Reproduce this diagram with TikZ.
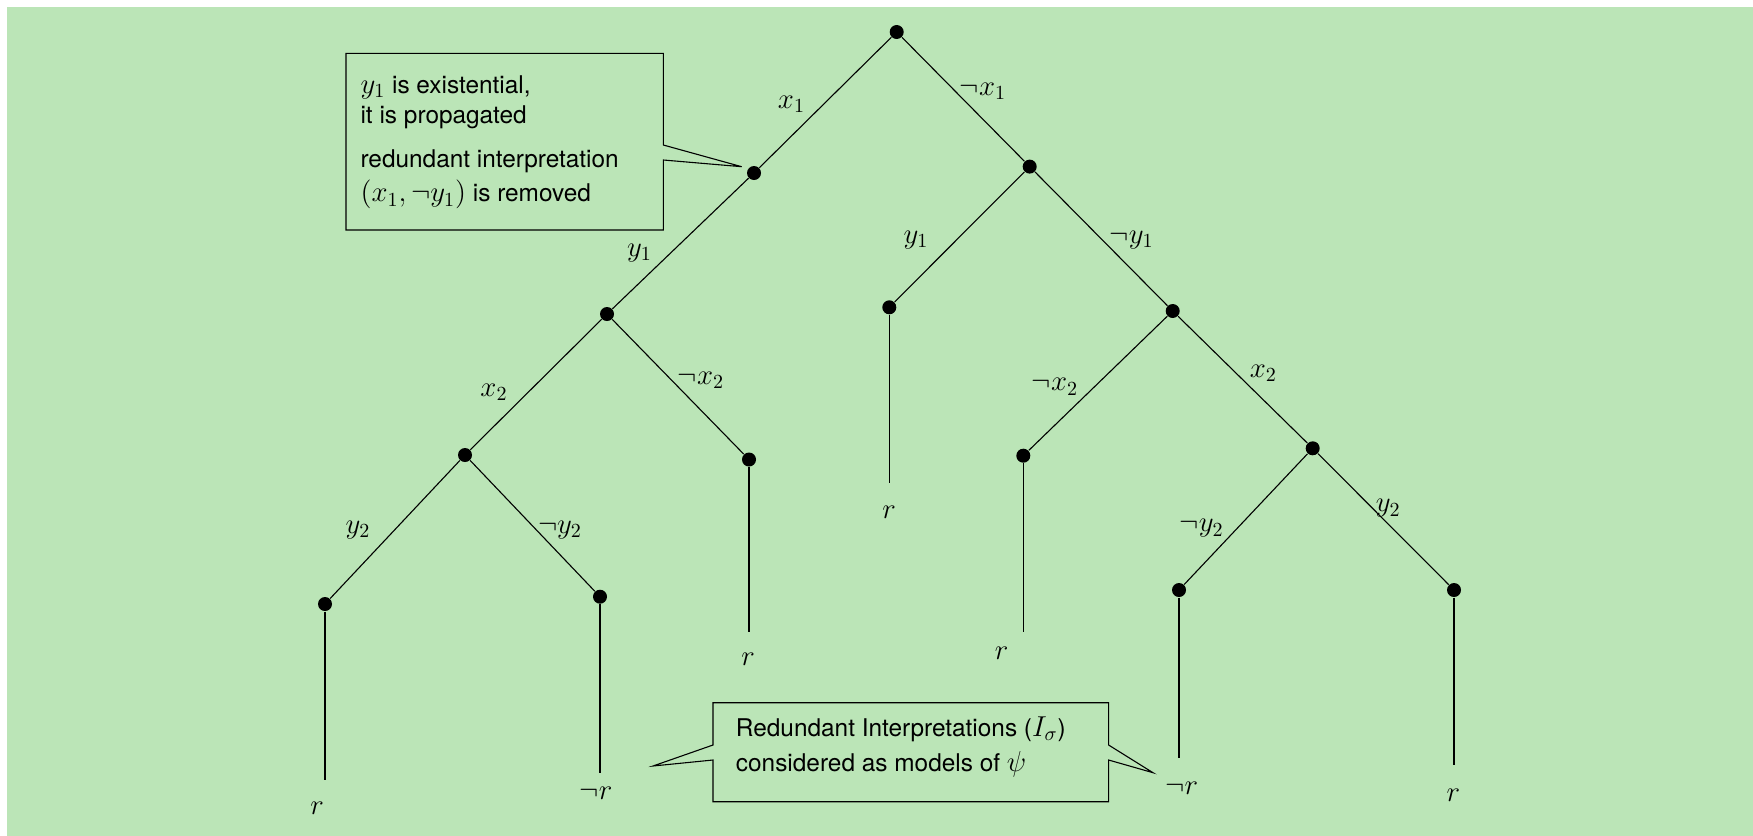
\documentclass[tikz,border=0pt]{standalone}
\usepackage{fontspec}
\setsansfont{TeX Gyre Heros}
\definecolor{bggreen}{RGB}{187,229,183}
\newcommand{\bm}[1]{{\fontsize{14.4}{17}\selectfont$#1$}}
\begin{document}
\begin{tikzpicture}[x=0.5pt,y=-0.5pt,
  dot/.style={circle,fill=black,inner sep=0pt,minimum size=7pt},
  lab/.style={inner sep=0pt,font=\fontsize{14.4}{17}\selectfont},
  boxtxt/.style={inner sep=0pt,anchor=base west,font=\sffamily\fontsize{12.2}{14}\selectfont},
  every path/.style={line width=0.55pt}]
\useasboundingbox (0,0) rectangle (1753,836);
\fill[bggreen] (7,7) rectangle (1753,836);
% tree nodes
\node[dot] (root) at (896.7,32) {};
\node[dot] (a) at (754,173) {};
\node[dot] (b) at (1029.7,166.6) {};
\node[dot] (a1) at (607,314) {};
\node[dot] (a11) at (465,455) {};
\node[dot] (a12) at (749,459.5) {};
\node[dot] (a111) at (325,604) {};
\node[dot] (a112) at (600,596.7) {};
\node[dot] (b1) at (889.3,307.3) {};
\node[dot] (b2) at (1172.7,311) {};
\node[dot] (b21) at (1023.3,455.7) {};
\node[dot] (b22) at (1312.7,448.3) {};
\node[dot] (b221) at (1179,590) {};
\node[dot] (b222) at (1454,590) {};
% leaf ends
\coordinate (ea111) at (325,780);
\coordinate (ea112) at (600,772.7);
\coordinate (ea12) at (749,631.7);
\coordinate (eb1) at (889.3,483.3);
\coordinate (eb21) at (1023.3,631.7);
\coordinate (eb221) at (1179,758.3);
\coordinate (eb222) at (1454,765);
% edges
\draw (root) -- (a);
\draw (root) -- (b);
\draw (a) -- (a1);
\draw (a1) -- (a11);
\draw (a1) -- (a12);
\draw (a11) -- (a111);
\draw (a11) -- (a112);
\draw (b) -- (b1);
\draw (b) -- (b2);
\draw (b2) -- (b21);
\draw (b2) -- (b22);
\draw (b22) -- (b221);
\draw (b22) -- (b222);
\draw (a111) -- (ea111);
\draw (a112) -- (ea112);
\draw (a12) -- (ea12);
\draw (b1) -- (eb1);
\draw (b21) -- (eb21);
\draw (b221) -- (eb221);
\draw (b222) -- (eb222);
% edge labels
\node[lab] (lx1) at (791.5,104) {$x_1$};
\node[lab] (lnx1) at (983,91) {$\neg x_1$};
\node[lab] (ly1) at (639.5,252.7) {$y_1$};
\node[lab] (lx2) at (494,392) {$x_2$};
\node[lab] (lnx2) at (701,380) {$\neg x_2$};
\node[lab] (ly2) at (358,530) {$y_2$};
\node[lab] (lny2) at (560,530) {$\neg y_2$};
\node[lab] (ly1b) at (916,240) {$y_1$};
\node[lab] (lny1b) at (1131.7,240) {$\neg y_1$};
\node[lab] (lnx2b) at (1055,386.7) {$\neg x_2$};
\node[lab] (lx2b) at (1263.3,373.3) {$x_2$};
\node[lab] (lny2b) at (1201.7,528.3) {$\neg y_2$};
\node[lab] (ly2b) at (1388.3,508.3) {$y_2$};
% leaf labels
\node[lab] (r1) at (317,808) {$r$};
\node[lab] (r2) at (596,793) {$\neg r$};
\node[lab] (r3) at (748,659.6) {$r$};
\node[lab] (r4) at (889,512) {$r$};
\node[lab] (r5) at (1001.7,653.3) {$r$};
\node[lab] (r6) at (1181.7,788) {$\neg r$};
\node[lab] (r7) at (1453.3,795) {$r$};
% callout 1
\draw (346,53.3) -- (663.3,53.3) -- (663.3,145) -- (741.7,166.7) -- (663.3,160)
  -- (663.3,230) -- (346,230) -- cycle;
\node[boxtxt] (t1) at (360,93) {\bm{y_1} is existential,};
\node[boxtxt] (t2) at (360,123) {it is propagated};
\node[boxtxt] (t3) at (360,167) {redundant interpretation};
\node[boxtxt] (t4) at (360,201.7) {\bm{(x_1,\neg y_1)} is removed};
% callout 2
\draw (713,702.7) -- (1108.6,702.7) -- (1108.6,745) -- (1153,772.7) -- (1108.6,760)
  -- (1108.6,801.7) -- (713,801.7) -- (713,760) -- (653,766) -- (713,745) -- cycle;
\node[boxtxt] (t5) at (735.4,736) {Redundant Interpretations (\bm{I_\sigma})};
\node[boxtxt] (t6) at (735.4,771.7) {considered as models of \bm{\psi}};
\end{tikzpicture}
\end{document}
